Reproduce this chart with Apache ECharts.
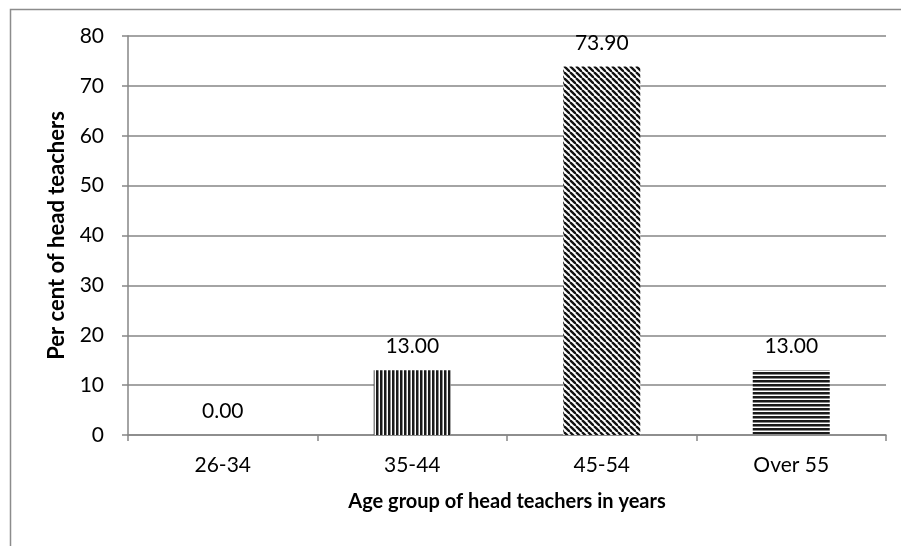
<!DOCTYPE html>
<html>
<head>
<meta charset="utf-8">
<script src="https://cdn.jsdelivr.net/npm/echarts@6/dist/echarts.min.js"></script>
<style>
  html, body { margin: 0; padding: 0; background: #fff; }
  #main { width: 901px; height: 546px; }
</style>
</head>
<body>
<div id="main"></div>
<script>
const ageGroups = ['26-34', '35-44', '45-54', 'Over 55'];
const percentHeads = [0.00, 13.00, 73.90, 13.00];
const yTicks = { min: 0, max: 80, interval: 10 };

// small tiles used as fill patterns, like the Excel hatch fills
function makeTile(w, h, draw) {
    const c = document.createElement('canvas');
    c.width = w; c.height = h;
    const ctx = c.getContext('2d');
    ctx.fillStyle = '#fff';
    ctx.fillRect(0, 0, w, h);
    draw(ctx);
    return c;
}

const vertTile = makeTile(4, 4, ctx => {
    ctx.fillStyle = '#1a1a1a';
    ctx.fillRect(0, 0, 2, 4);
    ctx.fillStyle = '#8a8a8a';
    ctx.fillRect(2, 0, 1, 4);
});

const diagTile = makeTile(6, 6, ctx => {
    ctx.strokeStyle = '#111';
    ctx.lineWidth = 2.3;
    for (let k = -6; k <= 6; k += 6) {
        ctx.beginPath();
        ctx.moveTo(k, 0);
        ctx.lineTo(k + 6, 6);
        ctx.stroke();
    }
});

const horizTile = makeTile(4, 4, ctx => {
    ctx.fillStyle = '#1a1a1a';
    ctx.fillRect(0, 0, 4, 2);
    ctx.fillStyle = '#8a8a8a';
    ctx.fillRect(0, 2, 4, 1);
});

const fills = [
    '#ffffff',
    { image: vertTile, repeat: 'repeat' },
    { image: diagTile, repeat: 'repeat' },
    { image: horizTile, repeat: 'repeat' }
];

const font = 'Lato, "Open Sans", sans-serif';
const lineGrey = '#868686';

const chart = echarts.init(document.getElementById('main'), null, { renderer: 'canvas' });

chart.setOption({
    backgroundColor: '#fff',
    animation: false,
    graphic: [{
        type: 'rect',
        shape: { x: 10.5, y: 9.5, width: 1000, height: 1000 },
        style: { fill: 'none', stroke: '#8c8c8c', lineWidth: 1.5 },
        silent: true
    }],
    grid: { left: 128, right: 15, top: 36, bottom: 111 },
    xAxis: {
        type: 'category',
        data: ageGroups,
        name: 'Age group of head teachers in years',
        nameLocation: 'middle',
        nameGap: 57,
        nameTextStyle: { fontFamily: font, fontSize: 20, fontWeight: 'bold', color: '#000' },
        axisLine: { lineStyle: { color: lineGrey, width: 1.5 } },
        axisTick: { show: true, length: 6, lineStyle: { color: lineGrey, width: 1.5 } },
        axisLabel: { fontFamily: font, fontSize: 21, color: '#000', margin: 20 }
    },
    yAxis: {
        type: 'value',
        min: yTicks.min,
        max: yTicks.max,
        interval: yTicks.interval,
        name: 'Per cent of head teachers',
        nameLocation: 'middle',
        nameGap: 60,
        nameTextStyle: { fontFamily: font, fontSize: 22, fontWeight: 'bold', color: '#000' },
        axisLine: { show: true, lineStyle: { color: lineGrey, width: 1.5 } },
        axisTick: { show: true, length: 6, lineStyle: { color: lineGrey, width: 1.5 } },
        axisLabel: { fontFamily: font, fontSize: 21, color: '#000', margin: 24 },
        splitLine: { lineStyle: { color: lineGrey, width: 1.5 } }
    },
    series: [{
        type: 'bar',
        barWidth: 77,
        data: percentHeads.map((v, i) => ({ value: v, itemStyle: { color: fills[i] } })),
        label: {
            show: true,
            position: 'top',
            distance: 13,
            fontFamily: font,
            fontSize: 21,
            color: '#000',
            formatter: p => p.value.toFixed(2)
        }
    }]
});
</script>
</body>
</html>
